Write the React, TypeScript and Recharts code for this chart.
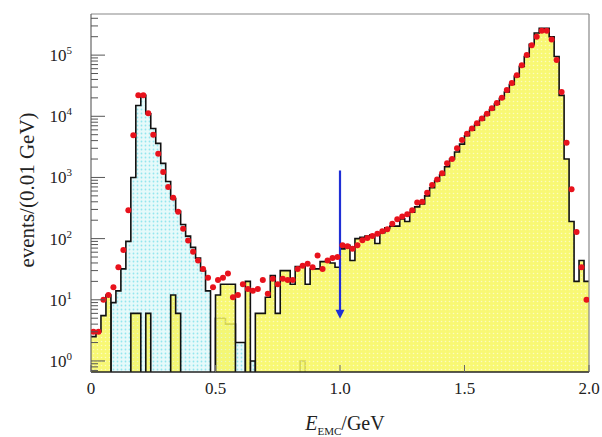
import React from 'react';
import { ComposedChart, Area, Scatter, XAxis, YAxis, ReferenceLine, ReferenceDot } from 'recharts';

const BIN_WIDTH = 0.02;
const Y_MIN = 0.66;
const Y_MAX = 470000;
const EMPTY = 0.3; // empty bins sit below the log axis and get clipped

// MC peaked near 0.2 GeV (cyan)
const cyanMC = [
  0, 0, 0, 0, 9, 14, 32, 90, 1000, 15000,
  22000, 11000, 6300, 3600, 1700, 860, 450, 280, 170, 110,
  72, 48, 30, 14, 0, 5, 5, 4, 4, 2,
  2, 0, 1, 0, 0, 0, 0, 0, 0, 0,
  0, 0, 1, 0, 0, 0, 0, 0, 0, 0,
  0, 0, 0, 0, 0, 0, 0, 0, 0, 0,
  0, 0, 0, 0, 0, 0, 0, 0, 0, 0,
  0, 0, 0, 0, 0, 0, 0, 0, 0, 0,
  0, 0, 0, 0, 0, 0, 0, 0, 0, 0,
  0, 0, 0, 0, 0, 0, 0, 0, 0, 0,
];

// MC peaked near 1.8 GeV (yellow)
const yellowMC = [
  2.5, 3, 5.5, 12, 0, 0, 0, 0, 6, 6,
  0, 6, 0, 0, 0, 0, 12, 6, 0, 0,
  0, 0, 0, 0, 0, 12, 18, 18, 18, 0,
  0, 20, 0, 6, 6, 11, 25, 6, 30, 30,
  18, 35, 35, 18, 32, 32, 42, 42, 40, 34,
  68, 78, 44, 100, 105, 110, 115, 83, 125, 150,
  160, 160, 210, 190, 270, 330, 370, 500, 680, 880,
  1100, 1500, 2000, 2600, 3500, 4800, 5900, 7200, 8700, 10500,
  12800, 15800, 19500, 25000, 33000, 45000, 65000, 95000, 150000, 230000,
  275000, 275000, 200000, 95000, 22000, 2000, 190, 20, 44, 20,
];

// measured events per bin (red points)
const dataCounts = [
  3, 3, 10, 12, 16, 34, 65, 290, 4900, 22000,
  22000, 11200, 5000, 2450, 1230, 700, 465, 275, 145, 93,
  61, 44, 32, 23, 16, 21, 23, 27, 11, 12,
  18, 15, 14, 15, 21, 12.5, 22, 18, 22, 21,
  21, 32, 36, 39, 34, 53, 32, 44, 48, 50,
  78, 75, 68, 78, 94, 102, 110, 120, 132, 142,
  175, 207, 230, 250, 290, 390, 400, 560, 750, 930,
  1170, 1700, 2000, 3000, 4100, 5200, 6300, 7700, 9200, 11000,
  13500, 16500, 20000, 27000, 35000, 47000, 68000, 100000, 145000, 200000,
  250000, 250000, 180000, 83000, 25000, 3700, 640, 128, 34, 10,
];

const X_TICKS = [0, 0.5, 1, 1.5, 2];
const X_TICK_LABELS = ['0', '0.5', '1.0', '1.5', '2.0'];
const Y_DECADES = [1, 10, 100, 1000, 10000, 100000];
const MINOR_STEPS = [2, 3, 4, 5, 6, 7, 8, 9];

const ARROW_X = 1.0;
const ARROW_TOP = 1300;
const ARROW_TIP = 4.9;

const FONT = '"Liberation Serif", "Times New Roman", serif';

const histRows = cyanMC.map((c, i) => ({
  x: +(i * BIN_WIDTH).toFixed(2),
  cyan: c > 0 ? c : EMPTY,
  yellow: yellowMC[i] > 0 ? yellowMC[i] : EMPTY,
}));
histRows.push({ x: 2, cyan: histRows[histRows.length - 1].cyan, yellow: histRows[histRows.length - 1].yellow });

const points = dataCounts.map((v, i) => ({ x: +((i + 0.5) * BIN_WIDTH).toFixed(3), y: v }));

const yTicks = [0.1, ...Y_DECADES]
  .flatMap((d) => [d, ...MINOR_STEPS.map((m) => m * d)])
  .filter((v) => v >= Y_MIN && v <= Y_MAX);

const YTick = (p: any) => {
  const v = p.payload.value;
  const major = Y_DECADES.includes(v);
  const exp = Math.round(Math.log10(v));
  return (
    <g>
      <line x1={p.x} x2={p.x + (major ? 14 : 7)} y1={p.y} y2={p.y} stroke="#555" strokeWidth={1} />
      {major && (
        <text x={p.x - 19} y={p.y + 6} textAnchor="end" fontFamily={FONT} fontSize={17} fill="#222">
          10<tspan dy={-7} fontSize={11}>{exp}</tspan>
        </text>
      )}
    </g>
  );
};

const XTick = (p: any) => {
  const idx = X_TICKS.indexOf(p.payload.value);
  return (
    <g>
      <line x1={p.x} x2={p.x} y1={p.y} y2={p.y - 7} stroke="#666" strokeWidth={1} />
      <text x={p.x} y={p.y + 22} textAnchor="middle" fontFamily={FONT} fontSize={17} fill="#222">
        {X_TICK_LABELS[idx]}
      </text>
    </g>
  );
};

const YLabel = ({ viewBox }: any) => (
  <text
    transform={`translate(${viewBox.x + 34},${viewBox.y + viewBox.height / 2 - 3}) rotate(-90)`}
    textAnchor="middle"
    fontFamily={FONT}
    fontSize={21}
    fill="#222"
  >
    events/(0.01 GeV)
  </text>
);

const XLabel = ({ viewBox }: any) => (
  <text x={viewBox.x + viewBox.width / 2 + 5} y={viewBox.y + 58} textAnchor="middle" fontFamily={FONT} fontSize={20} fill="#222">
    <tspan fontStyle="italic">E</tspan>
    <tspan fontSize={11} dy={5}>EMC</tspan>
    <tspan dy={-5}>/GeV</tspan>
  </text>
);

const ArrowHead = (p: any) => (
  <path d={`M${p.cx - 4.5},${p.cy - 9} L${p.cx + 4.5},${p.cy - 9} L${p.cx},${p.cy} Z`} fill="#1f2fd6" />
);

const DataDot = (p: any) => <circle cx={p.cx} cy={p.cy} r={3} fill="#e8121c" />;

export default function App() {
  return (
    <div style={{ position: 'absolute', left: 0, top: 0, background: '#fff' }}>
      <ComposedChart width={602} height={437} data={histRows} margin={{ top: 14, right: 13, bottom: 0, left: 0 }}>
        <defs>
          <pattern id="cyanDots" width="4" height="4" patternUnits="userSpaceOnUse">
            <rect width="4" height="4" fill="#e6fafa" />
            <circle cx="1.5" cy="1.5" r="0.9" fill="#93e6ee" />
          </pattern>
          <pattern id="yellowDots" width="4" height="4" patternUnits="userSpaceOnUse">
            <rect width="4" height="4" fill="#f7f75c" />
            <circle cx="1.5" cy="1.5" r="0.8" fill="#fbfbb4" />
          </pattern>
        </defs>
        <XAxis
          dataKey="x"
          type="number"
          domain={[0, 2]}
          allowDataOverflow
          ticks={X_TICKS}
          interval={0}
          tick={<XTick />}
          tickSize={0}
          tickMargin={0}
          tickLine={false}
          axisLine={{ stroke: '#222', strokeWidth: 1.5 }}
          height={65}
          label={<XLabel />}
        />
        <YAxis
          scale="log"
          domain={[Y_MIN, Y_MAX]}
          allowDataOverflow
          ticks={yTicks}
          interval={0}
          tick={<YTick />}
          tickSize={0}
          tickMargin={0}
          tickLine={false}
          axisLine={{ stroke: '#666', strokeWidth: 1.2 }}
          width={91}
          label={<YLabel />}
        />
        <Area
          type="stepAfter"
          dataKey="cyan"
          stroke="#111"
          strokeWidth={1.6}
          fill="url(#cyanDots)"
          fillOpacity={1}
          baseValue={Y_MIN}
          dot={false}
          activeDot={false}
          isAnimationActive={false}
        />
        <Area
          type="stepAfter"
          dataKey="yellow"
          stroke="#111"
          strokeWidth={1.6}
          fill="url(#yellowDots)"
          fillOpacity={0.85}
          baseValue={Y_MIN}
          dot={false}
          activeDot={false}
          isAnimationActive={false}
        />
        <Scatter data={points} dataKey="y" shape={<DataDot />} isAnimationActive={false} />
        <ReferenceLine y={Y_MAX} stroke="#888" strokeWidth={1.2} />
        <ReferenceLine x={2} stroke="#888" strokeWidth={1.2} />
        <ReferenceLine
          segment={[{ x: ARROW_X, y: ARROW_TOP }, { x: ARROW_X, y: ARROW_TIP * 1.3 }]}
          stroke="#1f2fd6"
          strokeWidth={2.2}
        />
        <ReferenceDot x={ARROW_X} y={ARROW_TIP} r={4} shape={<ArrowHead />} />
      </ComposedChart>
    </div>
  );
}
